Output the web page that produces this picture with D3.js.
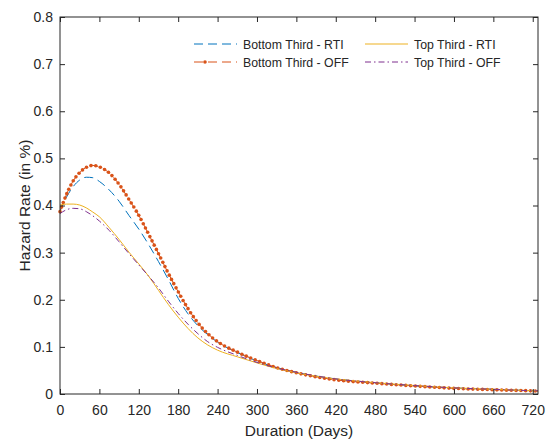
<!DOCTYPE html>
<html><head><meta charset="utf-8">
<script src="https://cdn.jsdelivr.net/npm/d3@7"></script>
<style>body{margin:0;background:#fff}svg{display:block}text{font-family:"Liberation Sans",Arial,sans-serif;fill:#262626}</style>
</head><body><svg id="c" width="547" height="441"></svg>
<script>
const days = [0,10,20,30,40,50,60,75,90,105,120,135,150,165,180,195,210,225,240,270,300,330,360,420,480,540,600,660,720,728];
const bottomRTI = [0.389,0.418,0.44,0.454,0.46,0.459,0.451,0.433,0.409,0.379,0.35,0.317,0.281,0.243,0.203,0.17,0.145,0.126,0.11,0.088,0.07,0.056,0.046,0.032,0.024,0.017,0.013,0.01,0.007,0.0067];
const bottomOFF = [0.387,0.424,0.452,0.47,0.481,0.485,0.482,0.469,0.445,0.413,0.379,0.339,0.298,0.256,0.217,0.181,0.151,0.128,0.111,0.089,0.071,0.056,0.045,0.03,0.023,0.017,0.012,0.009,0.0065,0.006];
const topRTI = [0.401,0.403,0.403,0.401,0.395,0.386,0.376,0.353,0.328,0.301,0.276,0.25,0.22,0.19,0.163,0.139,0.119,0.104,0.093,0.079,0.066,0.054,0.045,0.032,0.024,0.018,0.013,0.01,0.007,0.0068];
const topOFF = [0.383,0.391,0.394,0.393,0.387,0.378,0.367,0.347,0.323,0.298,0.274,0.25,0.225,0.197,0.171,0.148,0.128,0.111,0.099,0.082,0.067,0.055,0.046,0.032,0.024,0.018,0.013,0.01,0.007,0.0068];
const xTicks = [0,60,120,180,240,300,360,420,480,540,600,660,720];
const yTicks = [0,0.1,0.2,0.3,0.4,0.5,0.6,0.7,0.8];
const seriesNames = ["Bottom Third - RTI","Top Third - RTI","Bottom Third - OFF","Top Third - OFF"];

const L=60,R=538,T=17,B=394;
const svg=d3.select("#c");
const x=d3.scaleLinear().domain([0,728]).range([L,R]);
const y=d3.scaleLinear().domain([0,0.8]).range([B,T]);
const axisCol="#262626";

const series=[
 {name:seriesNames[0],vals:bottomRTI,color:"#0072BD",dash:"9,5",w:1},
 {name:seriesNames[1],vals:topRTI,color:"#EDB120",dash:null,w:1},
 {name:seriesNames[2],vals:bottomOFF,color:"#D95319",dash:"9,5",w:1,marker:true},
 {name:seriesNames[3],vals:topOFF,color:"#7E2F8E",dash:"6,3,1.5,3",w:1}
];
const line=d3.line().x((d,i)=>x(days[i])).y(d=>y(d)).curve(d3.curveMonotoneX);
const g=svg.append("g");
const drawOrder=[0,2,1,3];
drawOrder.forEach(k=>{
  const s=series[k];
  const p=g.append("path").attr("d",line(s.vals)).attr("fill","none").attr("stroke",s.color)
   .attr("stroke-width",s.w).attr("stroke-dasharray",s.dash);
  if(s.marker){
    const node=p.node(),len=node.getTotalLength();
    for(let l=0;l<=len;l+=4.8){
      const pt=node.getPointAtLength(l);
      g.append("circle").attr("cx",pt.x).attr("cy",pt.y).attr("r",1.8).attr("fill",s.color);
    }
  }
});

svg.append("rect").attr("x",L).attr("y",T).attr("width",R-L).attr("height",B-T).attr("fill","none").attr("stroke",axisCol).attr("stroke-width",1);
const xa=d3.axisBottom(x).tickValues(xTicks).tickSize(-5).tickPadding(11).tickFormat(d3.format("d"));
const gx=svg.append("g").attr("transform",`translate(0,${B})`).call(xa);
const xt=d3.axisTop(x).tickValues(xTicks).tickSize(-5).tickFormat("");
const gxt=svg.append("g").attr("transform",`translate(0,${T})`).call(xt);
const ya=d3.axisLeft(y).tickValues(yTicks).tickSize(-5).tickPadding(7).tickFormat(d=>d===0?"0":d3.format(".1f")(d));
const gy=svg.append("g").attr("transform",`translate(${L},0)`).call(ya);
const yr=d3.axisRight(y).tickValues(yTicks).tickSize(-5).tickFormat("");
const gyr=svg.append("g").attr("transform",`translate(${R},0)`).call(yr);
[gx,gxt,gy,gyr].forEach(a=>{a.attr("font-size",null).attr("font-family",null);a.select(".domain").remove();a.selectAll("line").attr("stroke",axisCol);a.selectAll("text").style("font-size","14px").attr("fill",axisCol);});

svg.append("text").attr("x",(L+R)/2).attr("y",436).attr("text-anchor","middle").style("font-size","15.5px").text("Duration (Days)");
svg.append("text").attr("transform",`translate(30,${(T+B)/2}) rotate(-90)`).attr("text-anchor","middle").style("font-size","15.5px").text("Hazard Rate (in %)");

const leg=[{s:series[0],x:194,y:44},{s:series[1],x:365,y:44},{s:series[2],x:194,y:62},{s:series[3],x:365,y:62}];
leg.forEach(e=>{
  const lg=svg.append("g");
  lg.append("line").attr("x1",e.x).attr("x2",e.x+43).attr("y1",e.y).attr("y2",e.y).attr("stroke",e.s.color).attr("stroke-width",1).attr("stroke-dasharray",e.s.dash);
  if(e.s.marker) lg.append("circle").attr("cx",e.x+11).attr("cy",e.y).attr("r",1.8).attr("fill",e.s.color);
  lg.append("text").attr("x",e.x+49).attr("y",e.y+4.5).style("font-size","12.3px").text(e.s.name);
});
</script></body></html>
